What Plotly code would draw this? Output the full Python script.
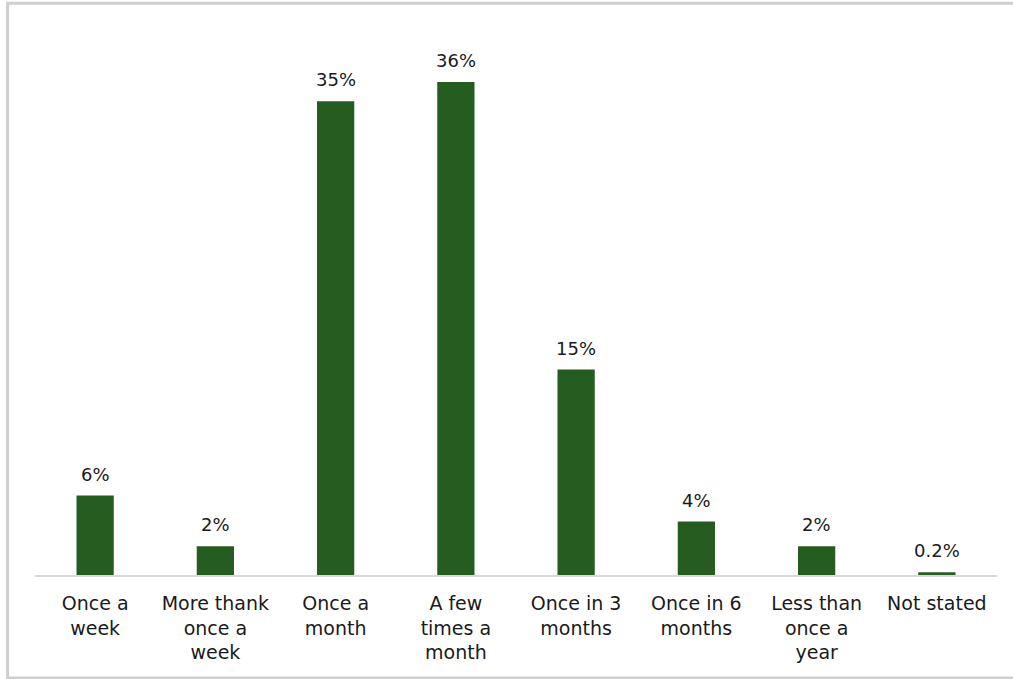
import plotly.graph_objects as go

categories = ["Once a<br>week", "More thank<br>once a<br>week", "Once a<br>month",
              "A few<br>times a<br>month", "Once in 3<br>months", "Once in 6<br>months",
              "Less than<br>once a<br>year", "Not stated"]
values = [5.8, 2.1, 34.6, 36.0, 15.0, 3.9, 2.1, 0.2]
labels = ["6%", "2%", "35%", "36%", "15%", "4%", "2%", "0.2%"]

FONT = "DejaVu Sans"
fig = go.Figure()
fig.add_trace(go.Bar(x=categories, y=values, marker=dict(color="#245D1F", line=dict(width=0)),
                     width=0.31, hoverinfo="skip"))

for c, v, t in zip(categories, values, labels):
    fig.add_annotation(x=c, y=v, text=t, showarrow=False, yanchor="bottom", yshift=9,
                       font=dict(family=FONT, size=18, color="#1a1a1a"))

fig.add_shape(type="rect", xref="paper", yref="paper", x0=-0.0285, x1=1.03, y0=-0.189, y1=1.049,
              line=dict(color="#cfcfcf", width=3), layer="below")

fig.update_layout(
    width=1013, height=679,
    margin=dict(l=35, r=16, t=30, b=104),
    paper_bgcolor="white", plot_bgcolor="white",
    showlegend=False,
    font=dict(family=FONT, size=18, color="#1a1a1a"),
)
fig.update_xaxes(showline=True, linecolor="#d9d9d9", linewidth=2, ticks="", showgrid=False,
                 tickfont=dict(family=FONT, size=19, color="#1a1a1a"), ticklabelstandoff=10)
fig.update_yaxes(visible=False, range=[0, 39.8], showgrid=False, zeroline=False)

fig.write_html("out.html", config={"displayModeBar": False},
               post_script="document.body.style.margin='0';document.body.style.overflow='hidden';")
